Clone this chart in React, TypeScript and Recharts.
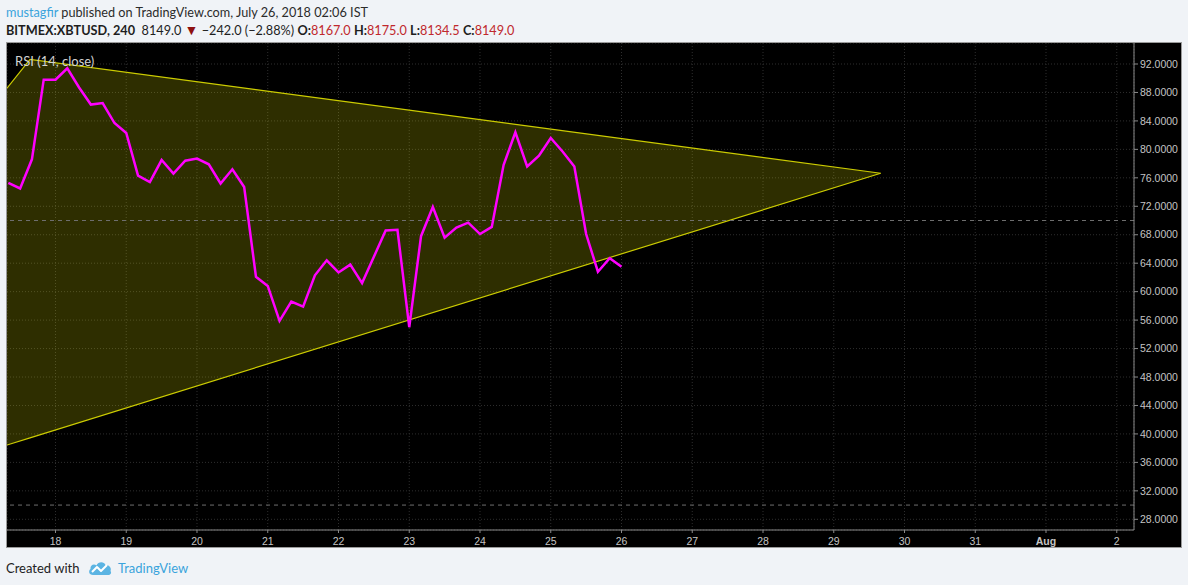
import { Area, CartesianGrid, ComposedChart, Line, ReferenceLine, XAxis, YAxis } from "recharts";

// RSI(14) on 4h candles, first point at 17 Jul 08:00, one value every 4 hours
const rsiStartDay = 18 - 4 / 6;
const rsiStepDays = 1 / 6;
const rsiValues = [
  75.3, 74.5, 78.6, 89.8, 89.8, 91.4, 88.7, 86.3, 86.5, 83.7, 82.3, 76.3, 75.4, 78.5, 76.6, 78.4, 78.7, 77.9,
  75.2, 77.2, 74.7, 62.1, 60.8, 55.9, 58.6, 57.9, 62.3, 64.4, 62.7, 63.8, 61.2, 64.9, 68.6, 68.7, 55.0, 67.8,
  71.9, 67.6, 69.0, 69.7, 68.1, 69.1, 77.8, 82.4, 77.6, 79.1, 81.6, 79.7, 77.6, 68.1, 62.8, 64.7, 63.5,
];

// triangle drawing: day, lower edge, upper edge
const triangleDays = [17.3145, 17.64, 29.663];
const triangleLow = [38.44, 39.45, 76.64];
const triangleHigh = [88.6, 92.66, 76.64];

const dayTicks = [18, 19, 20, 21, 22, 23, 24, 25, 26, 27, 28, 29, 30, 31, 32, 33];
const dayLabels = ["18", "19", "20", "21", "22", "23", "24", "25", "26", "27", "28", "29", "30", "31", "Aug", "2"];
const rsiTicks = [28, 32, 36, 40, 44, 48, 52, 56, 60, 64, 68, 72, 76, 80, 84, 88, 92];

const rsiData = rsiValues.map((rsi, i) => ({ day: rsiStartDay + i * rsiStepDays, rsi }));
const bandData = triangleDays.map((day, i) => ({ day, band: [triangleLow[i], triangleHigh[i]] }));

const axisText = "#c4c4c4";
const axisLine = "#8a8a8a";
const uiFont = "Lato, 'Open Sans', sans-serif";
const red = "#c0282d";

const XTick = (props: any) => {
  const { x, y, payload } = props;
  const idx = dayTicks.indexOf(payload.value);
  const label = idx >= 0 ? dayLabels[idx] : String(payload.value);
  return (
    <text
      x={x}
      y={y + 10}
      textAnchor="middle"
      fill={axisText}
      fontSize={10.5}
      fontWeight={label === "Aug" ? 700 : 400}
      fontFamily="'Liberation Sans', Arial, sans-serif"
    >
      {label}
    </text>
  );
};

function Logo() {
  return (
    <svg width={24} height={16} viewBox="0 0 24 16" style={{ position: "absolute", left: 88, top: 560 }}>
      <path
        d="M5 15 C1 15 0 11 2.5 9 C2 5 6 3.5 8.5 5.5 C10 1.5 16 1 17.5 5 C21 4.5 24 8 22.5 11 C24 13 22.5 15 20 15 Z"
        fill="#5bb4e3"
      />
      <polyline points="4,12 9,7 13,11 19,5" fill="none" stroke="#ffffff" strokeWidth={2} strokeLinejoin="round" />
    </svg>
  );
}

export default function App() {
  return (
    <div
      style={{
        position: "absolute",
        left: 0,
        top: 0,
        width: 1188,
        height: 585,
        background: "#f0f3f7",
        fontFamily: uiFont,
        overflow: "hidden",
      }}
    >
      <div style={{ position: "absolute", left: 6, top: 3, fontSize: 12.7, lineHeight: "18px", color: "#2b2b2b", whiteSpace: "nowrap" }}>
        <span style={{ color: "#3aa3dc" }}>mustagfir</span> published on TradingView.com, July 26, 2018 02:06 IST
      </div>
      <div style={{ position: "absolute", left: 6, top: 21, fontSize: 12.7, lineHeight: "18px", color: "#1e1e1e", whiteSpace: "nowrap" }}>
        <b>BITMEX:XBTUSD, 240</b>&nbsp; 8149.0 <span style={{ color: "#8e1010", fontSize: 14 }}>▼</span> −242.0 (−2.88%){" "}
        <b>O:</b><span style={{ color: red }}>8167.0</span> <b>H:</b><span style={{ color: red }}>8175.0</span>{" "}
        <b>L:</b><span style={{ color: red }}>8134.5</span> <b>C:</b><span style={{ color: red }}>8149.0</span>
      </div>

      <div
        style={{
          position: "absolute",
          left: 6,
          top: 42,
          width: 1174,
          height: 504,
          background: "#000000",
          border: "1px solid #9a9a9a",
        }}
      >
        <ComposedChart width={1174} height={504} margin={{ top: 0, right: 0, bottom: 0, left: 0 }}>
          <CartesianGrid stroke="#2e2e2e" strokeDasharray="1 2" />
          <XAxis
            dataKey="day"
            type="number"
            domain={[17.3145, 33.2438]}
            allowDataOverflow
            ticks={dayTicks}
            interval={0}
            height={17}
            tickSize={3}
            stroke={axisLine}
            tick={XTick}
          />
          <YAxis
            type="number"
            orientation="right"
            domain={[26.496, 94.952]}
            allowDataOverflow
            ticks={rsiTicks}
            interval={0}
            width={47}
            tickSize={4}
            stroke={axisLine}
            tickFormatter={(v: number) => v.toFixed(4)}
            tick={{ fill: axisText, fontSize: 10.5, fontFamily: "'Liberation Sans', Arial, sans-serif" }}
          />
          <Area
            data={bandData}
            dataKey="band"
            type="linear"
            stroke="#cccc00"
            strokeWidth={1.2}
            fill="#f5f500"
            fillOpacity={0.19}
            isAnimationActive={false}
          />
          <ReferenceLine y={70} stroke="#6e6e6e" strokeDasharray="4 4" />
          <ReferenceLine y={30} stroke="#6e6e6e" strokeDasharray="4 4" />
          <Line
            data={rsiData}
            dataKey="rsi"
            type="linear"
            stroke="#ff00ff"
            strokeWidth={2.5}
            dot={false}
            activeDot={false}
            isAnimationActive={false}
          />
        </ComposedChart>
        <div style={{ position: "absolute", left: 8, top: 10, fontSize: 13, lineHeight: "16px", color: "#d2d2d2", whiteSpace: "nowrap" }}>
          RSI (14, close)
        </div>
      </div>

      <div style={{ position: "absolute", left: 6, top: 559, fontSize: 13, lineHeight: "18px", color: "#222" }}>Created with</div>
      <Logo />
      <div style={{ position: "absolute", left: 118, top: 559, fontSize: 13, lineHeight: "18px", color: "#3aa3dc" }}>TradingView</div>
    </div>
  );
}
